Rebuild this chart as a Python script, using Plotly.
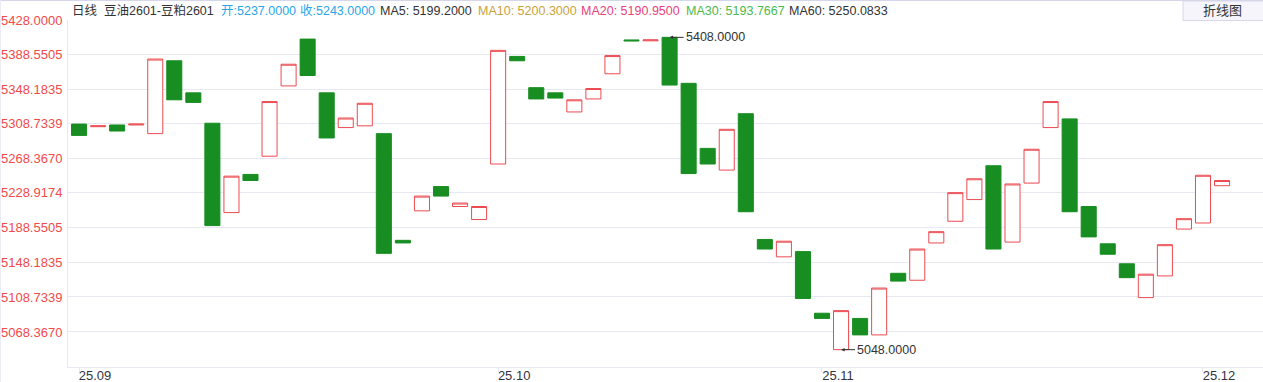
import pandas as pd
import plotly.graph_objects as go

# ---------------- data ----------------
trade_days = pd.bdate_range("2025-09-01", "2025-12-02")
holiday = (trade_days >= "2025-10-01") & (trade_days <= "2025-10-08")
dates = [d.strftime("%Y-%m-%d") for d in trade_days[~holiday]]

open_ = [5308, 5305, 5307, 5307, 5297, 5381, 5344, 5309, 5206, 5250,
         5271, 5352, 5406, 5344, 5304, 5306, 5297, 5174, 5208, 5236,
         5213, 5198, 5262, 5386, 5350, 5344, 5322, 5337, 5366, 5405,
         5404, 5408, 5355, 5280, 5255, 5320, 5175, 5155, 5161, 5090,
         5048, 5084, 5065, 5136, 5128, 5171, 5196, 5221, 5260, 5172,
         5240, 5304, 5314, 5213, 5170, 5147, 5108, 5133, 5187, 5194,
         5237]
close = [5295, 5306, 5300, 5308, 5383, 5336, 5333, 5191, 5248, 5243,
         5334, 5377, 5364, 5292, 5315, 5332, 5159, 5171, 5225, 5225,
         5217, 5213, 5393, 5381, 5337, 5338, 5336, 5349, 5387, 5404,
         5405, 5353, 5251, 5262, 5302, 5207, 5164, 5173, 5107, 5084,
         5093, 5065, 5119, 5127, 5164, 5184, 5229, 5245, 5164, 5239,
         5279, 5334, 5207, 5178, 5158, 5131, 5135, 5169, 5199, 5249,
         5243]
high = [max(o, c) for o, c in zip(open_, close)]
low = [min(o, c) for o, c in zip(open_, close)]

y_ticks = [5428.0000, 5388.5505, 5348.1835, 5308.7339, 5268.3670,
           5228.9174, 5188.5505, 5148.1835, 5108.7339, 5068.3670]
month_ticks = ["2025-09-01", "2025-10-09", "2025-11-03", "2025-12-01"]
month_labels = ["25.09", "25.10", "25.11", "25.12"]

title_name = "豆油2601-豆粕2601"
last_open, last_close = 5237.0, 5243.0
ma_names = ["MA5", "MA10", "MA20", "MA30", "MA60"]
ma_values = [5199.2000, 5200.3000, 5190.9500, 5193.7667, 5250.0833]
ma_colors = ["#333333", "#c9a23c", "#e8427a", "#4cba4c", "#333333"]

max_val, min_val = 5408.0, 5048.0

# ---------------- layout helpers ----------------
W, H = 1263, 382
L, R, T, B = 68, 0, 20, 15
PW, PH = W - L - R, H - T - B


def px(x):
    return (x - L) / PW


def py(y):
    return (H - B - y) / PH


RED = "#ec4b50"
GREEN = "#188e22"
GRID = "#e8e8f2"
FONT = "Liberation Sans, Arial, Noto Sans CJK SC, sans-serif"

fig = go.Figure()
fig.add_trace(go.Candlestick(
    x=dates, open=open_, high=high, low=low, close=close,
    increasing=dict(line=dict(color=RED, width=1), fillcolor="#ffffff"),
    decreasing=dict(line=dict(color=GREEN, width=1), fillcolor=GREEN),
    whiskerwidth=0, hoverinfo="x+y", showlegend=False,
))

imax = high.index(max_val)
imin = low.index(min_val)

annotations = [
    dict(x=dates[imax], y=max_val, xref="x", yref="y", text=f"{max_val:.4f}",
         showarrow=True, ax=14, ay=0, xanchor="left", arrowhead=2, arrowsize=0.7,
         arrowwidth=1, arrowcolor="#333333", font=dict(size=12.5, color="#333333", family=FONT)),
    dict(x=dates[imin], y=min_val, xref="x", yref="y", text=f"{min_val:.4f}",
         showarrow=True, ax=14, ay=0, xanchor="left", arrowhead=2, arrowsize=0.7,
         arrowwidth=1, arrowcolor="#333333", font=dict(size=12.5, color="#333333", family=FONT)),
]

header_items = [
    (70, "日线", "#333333"),
    (102, title_name, "#333333"),
    (219, f"开:{last_open:.4f}", "#2aa5e8"),
    (298, f"收:{last_close:.4f}", "#2aa5e8"),
]
ma_x = [378, 476, 579, 684, 787]
for xx, n, v, c in zip(ma_x, ma_names, ma_values, ma_colors):
    header_items.append((xx, f"{n}: {v:.4f}", c))
for xx, txt, col in header_items:
    annotations.append(dict(x=px(xx), y=py(10.5), xref="paper", yref="paper",
                            text=txt, showarrow=False, xanchor="left", yanchor="middle",
                            font=dict(size=12.5, color=col, family=FONT)))
annotations.append(dict(x=px(1222), y=py(11), xref="paper", yref="paper",
                        text="折线图", showarrow=False, xanchor="center", yanchor="middle",
                        font=dict(size=13, color="#333333", family=FONT)))

shapes = [
    dict(type="rect", xref="paper", yref="paper", x0=px(1183), x1=px(1263.5),
         y0=py(20.5), y1=py(1), fillcolor="#f5f5fb", line=dict(color="#d8d8ea", width=1), layer="above"),
    dict(type="line", xref="paper", yref="paper", x0=px(0), x1=px(W), y0=py(0.5), y1=py(0.5),
         line=dict(color="#d6d6ea", width=1)),
    dict(type="line", xref="paper", yref="paper", x0=px(0.5), x1=px(0.5), y0=py(H), y1=py(0),
         line=dict(color="#ececf6", width=1)),
]

fig.update_layout(
    width=W, height=H,
    margin=dict(l=L, r=R, t=T, b=B, pad=0, autoexpand=False),
    paper_bgcolor="#ffffff", plot_bgcolor="#ffffff",
    boxgap=0.21, boxgroupgap=0,
    showlegend=False,
    annotations=annotations, shapes=shapes,
    font=dict(family=FONT),
    xaxis=dict(
        type="category", categoryorder="array", categoryarray=dates,
        range=[-0.58, len(dates) + 1.15],
        rangeslider=dict(visible=False), automargin=False,
        tickmode="array", tickvals=month_ticks, ticktext=month_labels,
        ticks="outside", ticklen=4, tickcolor=GRID, ticklabelshift=16,
        ticklabelstandoff=-8,
        tickfont=dict(size=13, color="#333344", family=FONT),
        showgrid=False, showline=True, linecolor=GRID, linewidth=1,
        zeroline=False, fixedrange=True,
    ),
    yaxis=dict(
        range=[5028, 5428], side="left", automargin=False,
        tickmode="array", tickvals=y_ticks, ticktext=[f"{v:.4f}" for v in y_ticks],
        ticks="", ticklabelstandoff=2,
        tickfont=dict(size=13, color="#f04a4a", family=FONT),
        showgrid=True, gridcolor=GRID, gridwidth=1,
        showline=True, linecolor=GRID, linewidth=1, zeroline=False, fixedrange=True,
    ),
)

fig.write_html(
    "out.html",
    config=dict(displayModeBar=False),
    post_script="document.body.style.margin='0';document.body.style.overflow='hidden';",
)
